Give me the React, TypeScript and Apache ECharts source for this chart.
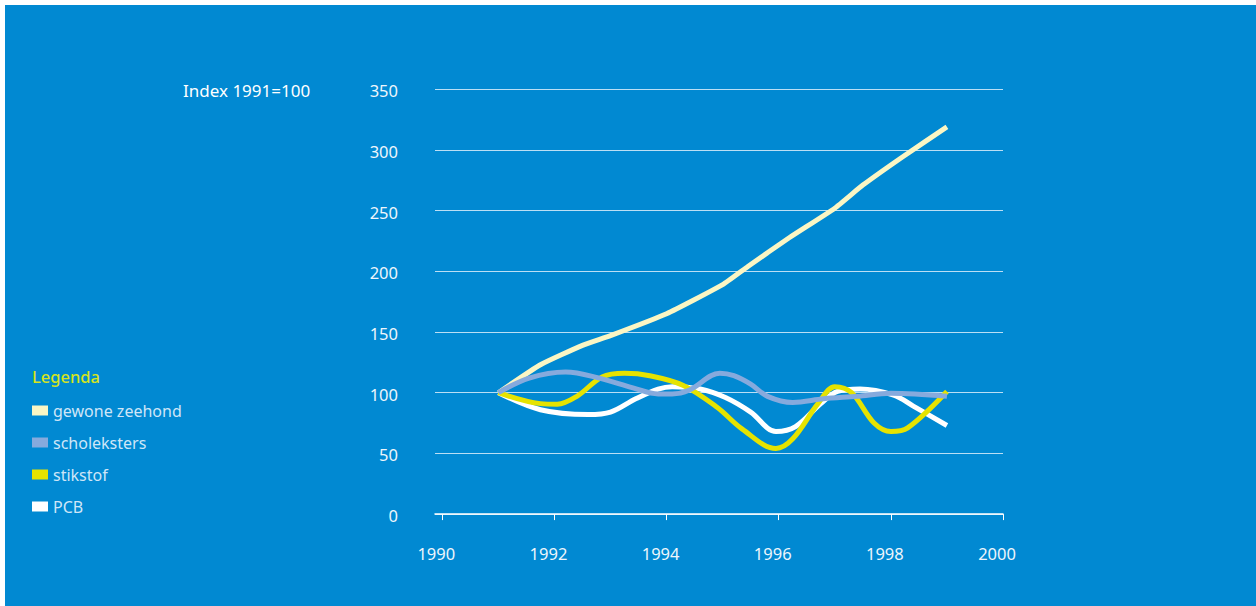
import React, { useEffect, useRef } from "react";
import * as echarts from "echarts";

const xTicks = [1990, 1992, 1994, 1996, 1998, 2000];
const yTicks = [0, 50, 100, 150, 200, 250, 300, 350];

const zeehondT = [1991, 1991.75, 1992.5, 1993, 1994, 1995, 1995.45, 1996.2, 1997, 1997.5, 1998.2, 1999];
const zeehondV = [100, 123, 139, 147, 165, 189, 204, 228, 252, 271, 294, 319];

const scholT = [1991, 1991.55, 1992.2, 1992.8, 1993.4, 1993.85, 1994.1, 1994.4, 1994.95, 1995.2, 1995.5, 1995.8, 1996.25, 1996.8, 1997.4, 1998, 1999];
const scholV = [100, 112, 117, 112, 104, 99, 99, 102, 116, 114, 107, 97, 92, 95, 97, 99.5, 97];

const stikT = [1991, 1991.75, 1992.05, 1992.4, 1992.85, 1993.25, 1993.7, 1994.3, 1994.9, 1995.35, 1995.95, 1996.25, 1996.7, 1997.0, 1997.3, 1997.7, 1998.0, 1998.3, 1999];
const stikV = [100, 91, 90.5, 97, 113, 116, 114, 106, 88, 70, 54, 62, 91, 105, 100, 75, 68, 71, 101];

const pcbT = [1991, 1991.75, 1992.6, 1993.0, 1993.45, 1993.85, 1994.1, 1994.6, 1995.05, 1995.5, 1995.95, 1996.3, 1996.75, 1997.05, 1997.45, 1998.05, 1998.4, 1999];
const pcbV = [100, 86, 82, 84, 95, 103, 105, 103, 96, 84, 68, 72, 91, 101, 103, 98, 89, 73];

const names = ["gewone zeehond", "scholeksters", "stikstof", "PCB"];
const colors: Record<string, string> = {
  "gewone zeehond": "#fbf6c4",
  scholeksters: "#86aadd",
  stikstof: "#e6e300",
  PCB: "#ffffff",
};

const FONT = "'Noto Sans', sans-serif";

const pairs = (t: number[], v: number[]) => t.map((x, i) => [x, v[i]]);

export default function App() {
  const ref = useRef<HTMLDivElement>(null);
  useEffect(() => {
    if (!ref.current) return;
    const chart = echarts.init(ref.current, null, { renderer: "svg" });
    const gridTop = 89.2;
    const gridBottom = 606 - 514.1;
    const mk = (name: string, t: number[], v: number[], smooth: number, w: number) => ({
      name,
      type: "line",
      xAxisIndex: 1,
      yAxisIndex: 1,
      data: pairs(t, v),
      smooth,
      showSymbol: false,
      symbol: "none",
      lineStyle: { color: colors[name], width: w, cap: "butt", join: "round" },
      itemStyle: { color: colors[name] },
    });
    chart.setOption({
      animation: false,
      backgroundColor: "transparent",
      textStyle: { fontFamily: FONT },
      grid: [
        { left: 435, right: 253, top: gridTop, bottom: gridBottom },
        { left: 442.3, right: 253, top: gridTop, bottom: gridBottom },
      ],
      xAxis: [
        {
          gridIndex: 0,
          type: "value",
          min: 0,
          max: 1,
          axisLine: { show: true, lineStyle: { color: "#ffffff", width: 1.5 } },
          axisTick: { show: false },
          axisLabel: { show: false },
          splitLine: { show: false },
        },
        {
          gridIndex: 1,
          type: "value",
          min: xTicks[0],
          max: xTicks[xTicks.length - 1],
          interval: 2,
          axisLine: { show: false },
          axisTick: { show: true, length: 6, lineStyle: { color: "#ffffff", width: 1 } },
          axisLabel: {
            color: "#eef6fc",
            fontSize: 16.5,
            fontFamily: FONT,
            margin: 31,
            padding: [0, 12, 0, 0],
            formatter: (v: number) => String(v),
          },
          splitLine: { show: false },
        },
      ],
      yAxis: [
        {
          gridIndex: 0,
          type: "value",
          min: yTicks[0],
          max: yTicks[yTicks.length - 1],
          interval: 50,
          axisLine: { show: false },
          axisTick: { show: false },
          axisLabel: {
            color: "#eef6fc",
            fontSize: 16.5,
            fontFamily: FONT,
            margin: 37,
            verticalAlign: "top",
            padding: [-7, 0, 0, 0],
          },
          splitLine: { show: true, lineStyle: { color: "rgba(220,238,252,0.85)", width: 1 } },
        },
        {
          gridIndex: 1,
          type: "value",
          min: 0,
          max: 350,
          show: false,
          splitLine: { show: false },
        },
      ],
      legend: {
        data: names,
        orient: "vertical",
        left: 32,
        top: 401,
        padding: 0,
        icon: "rect",
        itemWidth: 16,
        itemHeight: 10,
        itemGap: 13,
        selectedMode: false,
        textStyle: { color: "#cfe6f8", fontSize: 16, fontFamily: FONT, lineHeight: 19 },
      },
      graphic: [
        {
          type: "text",
          left: 183,
          top: 82,
          style: { text: "Index 1991=100", fill: "#ffffff", font: `17px ${FONT}` },
        },
        {
          type: "text",
          left: 32,
          top: 368,
          style: { text: "Legenda", fill: "#d6e41d", font: `500 16.5px ${FONT}` },
        },
      ],
      series: [
        mk("gewone zeehond", zeehondT, zeehondV, 0.15, 5),
        mk("PCB", pcbT, pcbV, 0.35, 5),
        mk("stikstof", stikT, stikV, 0.35, 5),
        mk("scholeksters", scholT, scholV, 0.35, 5),
      ],
    });
    return () => chart.dispose();
  }, []);
  return (
    <div style={{ position: "absolute", left: 0, top: 0, width: 1256, height: 606, background: "#ffffff" }}>
      <div style={{ position: "absolute", left: 5, top: 5, right: 0, bottom: 0, background: "#0189d2" }} />
      <div ref={ref} style={{ position: "absolute", left: 0, top: 0, width: 1256, height: 606 }} />
    </div>
  );
}
